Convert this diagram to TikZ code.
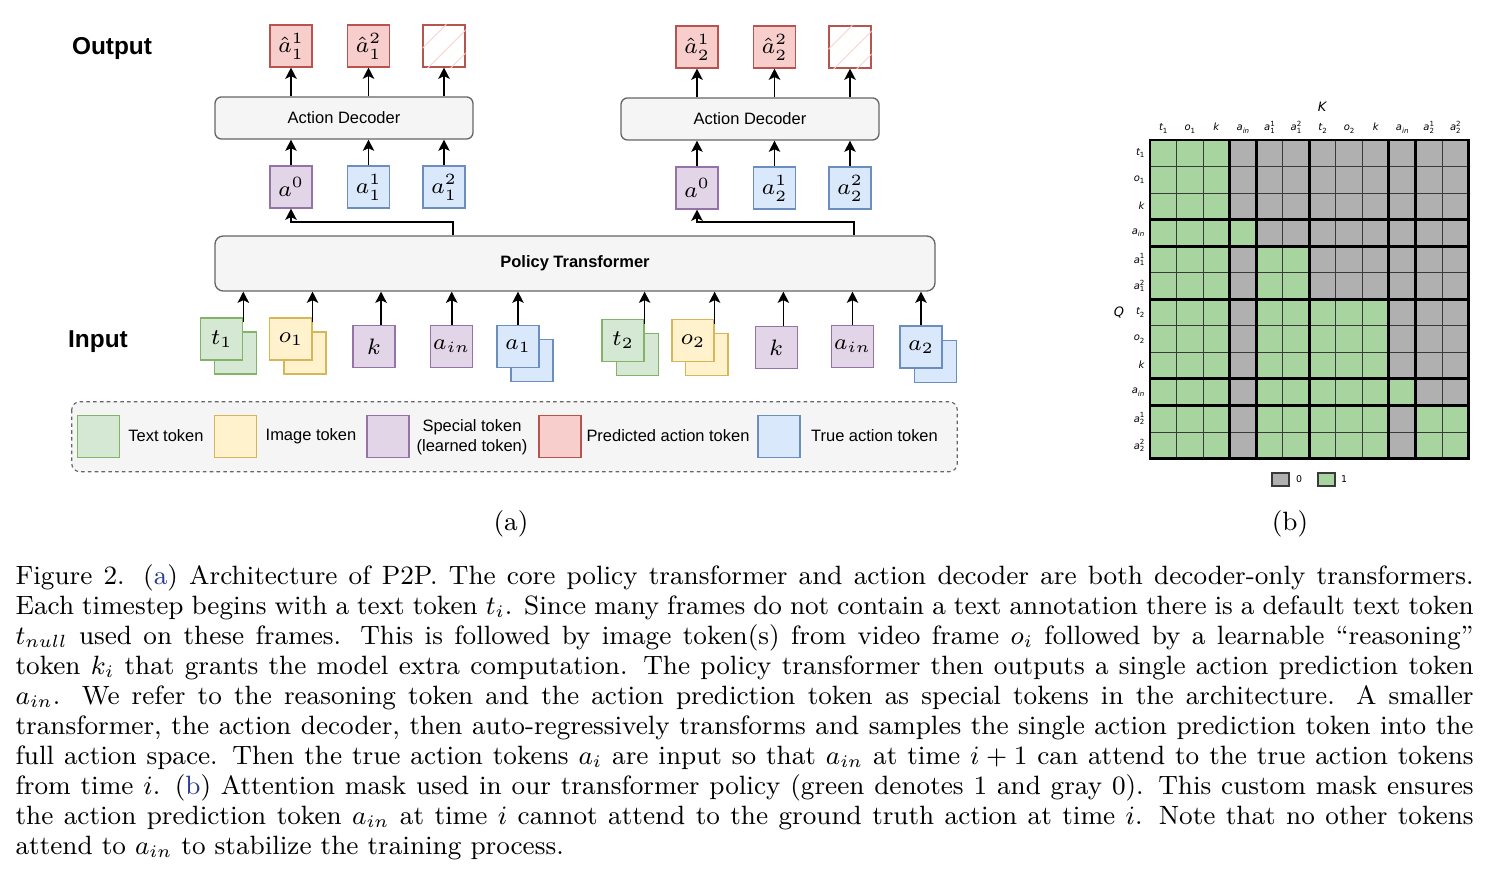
\RequirePackage{fix-cm}
\documentclass[tikz,border=0pt]{standalone}
\usepackage{fontspec}
\usetikzlibrary{arrows.meta}
\newfontfamily\arialfont{Liberation Sans}
\newfontfamily\mplfont{DejaVu Sans}
\definecolor{gfill}{HTML}{D5E8D4}\definecolor{gdraw}{HTML}{82B366}
\definecolor{yfill}{HTML}{FFF2CC}\definecolor{ydraw}{HTML}{D6B656}
\definecolor{pfill}{HTML}{E1D5E7}\definecolor{pdraw}{HTML}{9673A6}
\definecolor{rfill}{HTML}{F8CECC}\definecolor{rdraw}{HTML}{B85450}
\definecolor{bfill}{HTML}{DAE8FC}\definecolor{bdraw}{HTML}{6C8EBF}
\definecolor{boxfill}{HTML}{F5F5F5}\definecolor{boxdraw}{HTML}{666666}
\definecolor{hatch}{HTML}{F8D2D0}
\definecolor{c1}{RGB}{168,212,160}
\definecolor{c0}{RGB}{176,176,176}
\definecolor{gridc}{HTML}{3A3A3A}
\definecolor{capblue}{RGB}{40,60,150}
\newcommand\mt[3]{{\mplfont\itshape #1}\makebox[0pt][l]{\raisebox{0.45em}{\mplfont\fontsize{2.4}{2.7}\selectfont #3}}{\raisebox{-0.22em}{\mplfont\fontsize{2.4}{2.7}\selectfont #2}}}
\begin{document}
\begin{tikzpicture}[x=0.34pt,y=-0.34pt,
  tok/.style={draw, line width=0.4pt, minimum size=14.3pt, inner sep=0pt, font=\fontsize{7.6}{8.4}\selectfont},
  tg/.style={tok, fill=gfill, draw=gdraw},
  ty/.style={tok, fill=yfill, draw=ydraw},
  tp/.style={tok, fill=pfill, draw=pdraw},
  tr/.style={tok, fill=rfill, draw=rdraw},
  tb/.style={tok, fill=bfill, draw=bdraw},
  decoder/.style={draw=boxdraw, fill=boxfill, line width=0.45pt, rounded corners=2.2pt, minimum width=87.7pt, minimum height=14.3pt, inner sep=0pt, font=\arialfont\fontsize{5.6}{6.5}\selectfont},
  arr/.style={-{Stealth[length=3.8pt,width=3.9pt,inset=0.9pt]}, line width=0.55pt},
  lbl/.style={font=\arialfont\fontsize{5.6}{6.8}\selectfont, inner sep=0pt, align=center},
  big/.style={font=\arialfont\bfseries\fontsize{8.3}{9}\selectfont, inner sep=0pt},
  tick/.style={font=\fontsize{3.4}{3.8}\selectfont, inner sep=0pt},
  thinl/.style={draw=gridc, line width=0.35pt},
  thickl/.style={draw=black, line width=1.0pt}
]
\useasboundingbox (0,0) rectangle (1495,877);
\fill[white] (0,0) rectangle (1495,877);

% ---------- labels
\node[big] (outlbl) at (112,49) {Output};
\node[big] (inlbl) at (98,342) {Input};

% ---------- policy transformer
\node[draw=boxdraw, fill=boxfill, line width=0.45pt, rounded corners=2.8pt, minimum width=244.8pt, minimum height=18.7pt, inner sep=0pt, font=\arialfont\bfseries\fontsize{5.6}{6.5}\selectfont] (pt) at (575,263.5) {Policy Transformer};

% ---------- left group
\node[decoder] (ad1) at (344,118) {Action Decoder};
\node[tr] (o11) at (291,46) {$\hat{a}_1^1$};
\node[tr] (o12) at (368.5,46) {$\hat{a}_1^2$};
\node[tok, fill=white, draw=rdraw] (o13) at (444,46) {};
\begin{scope}
  \clip (o13.south west) rectangle (o13.north east);
  \begin{scope}[shift={(o13.north west)}]
    \draw[hatch, line width=0.35pt] (0,24) -- (24,0) (0,49) -- (49,0) (0,72) -- (72,0);
  \end{scope}
\end{scope}
\node[tp] (a01) at (291,187) {$a^0$};
\node[tb] (a111) at (368.5,187) {$a_1^1$};
\node[tb] (a112) at (444,187) {$a_1^2$};

\draw[arr] (ad1.north -| o11.south) -- (o11.south);
\draw[arr] (ad1.north -| o12.south) -- (o12.south);
\draw[arr] (ad1.north -| o13.south) -- (o13.south);
\draw[arr] (a01.north) -- (a01.north |- ad1.south);
\draw[arr] (a111.north) -- (a111.north |- ad1.south);
\draw[arr] (a112.north) -- (a112.north |- ad1.south);
\draw[arr] (453,0 |- pt.north) -- (453,222) -| (a01.south);

% ---------- right group
\node[decoder] (ad2) at (750,119) {Action Decoder};
\node[tr] (o21) at (697,47) {$\hat{a}_2^1$};
\node[tr] (o22) at (774.5,47) {$\hat{a}_2^2$};
\node[tok, fill=white, draw=rdraw] (o23) at (850,47) {};
\begin{scope}
  \clip (o23.south west) rectangle (o23.north east);
  \begin{scope}[shift={(o23.north west)}]
    \draw[hatch, line width=0.35pt] (0,24) -- (24,0) (0,49) -- (49,0) (0,72) -- (72,0);
  \end{scope}
\end{scope}
\node[tp] (a02) at (697,188) {$a^0$};
\node[tb] (a221) at (774.5,188) {$a_2^1$};
\node[tb] (a222) at (850,188) {$a_2^2$};

\draw[arr] (ad2.north -| o21.south) -- (o21.south);
\draw[arr] (ad2.north -| o22.south) -- (o22.south);
\draw[arr] (ad2.north -| o23.south) -- (o23.south);
\draw[arr] (a02.north) -- (a02.north |- ad2.south);
\draw[arr] (a221.north) -- (a221.north |- ad2.south);
\draw[arr] (a222.north) -- (a222.north |- ad2.south);
\draw[arr] (854,0 |- pt.north) -- (854,222) -| (a02.south);

% ---------- input tokens, step 1
\node[tg] (t1b) at (235.3,353) {};
\node[tg] (t1) at (221.7,339) {$t_1$};
\node[ty] (o1b) at (305,353) {};
\node[ty] (o1) at (290.9,339) {$o_1$};
\node[tp] (k1) at (374,346.4) {$k$};
\node[tp] (ain1) at (451.7,346.4) {$a_{in}$};
\node[tb] (a1b) at (532,360.4) {};
\node[tb] (a1) at (518,346.4) {$a_1$};

\draw[arr] ([yshift=-1.7pt]t1.north east) -- (t1.north east |- pt.south);
\draw[arr] ([yshift=-1.7pt]o1.north east) -- (o1.north east |- pt.south);
\draw[arr] ([xshift=2.4pt]k1.north) -- ([xshift=2.4pt]k1.north |- pt.south);
\draw[arr] (ain1.north) -- (ain1.north |- pt.south);
\draw[arr] (a1.north) -- (a1.north |- pt.south);

% ---------- input tokens, step 2
\node[tg] (t2b) at (637.5,354.8) {};
\node[tg] (t2) at (623,340.4) {$t_2$};
\node[ty] (o2b) at (706.9,354.8) {};
\node[ty] (o2) at (693,340.8) {$o_2$};
\node[tp] (k2) at (776.3,347.7) {$k$};
\node[tp] (ain2) at (852.5,346.2) {$a_{in}$};
\node[tb] (a2b) at (935.7,361.5) {};
\node[tb] (a2) at (921,347) {$a_2$};

\draw[arr] ([yshift=-1.7pt]t2.north east) -- (t2.north east |- pt.south);
\draw[arr] ([yshift=-1.7pt]o2.north east) -- (o2.north east |- pt.south);
\draw[arr] ([xshift=2.4pt]k2.north) -- ([xshift=2.4pt]k2.north |- pt.south);
\draw[arr] (ain2.north) -- (ain2.north |- pt.south);
\draw[arr] (a2.north) -- (a2.north |- pt.south);

% ---------- legend
\draw[draw=boxdraw, fill=boxfill, line width=0.4pt, dash pattern=on 1.2pt off 1.1pt, rounded corners=2.8pt] (71.7,401.7) rectangle (957.3,471.7);
\node[tg] (lg) at (98.7,436.5) {};
\node[lbl] (lgt) at (166,436) {Text token};
\node[ty] (ly) at (235.5,436.5) {};
\node[lbl] (lyt) at (311,436) {Image token};
\node[tp] (lp) at (388,436.5) {};
\node[lbl] (lpt) at (472,437) {Special token\\(learned token)};
\node[tr] (lr) at (560,436.5) {};
\node[lbl] (lrt) at (668,436) {Predicted action token};
\node[tb] (lb) at (779,436.5) {};
\node[lbl] (lbt) at (874.5,436) {True action token};

% ---------- attention mask
\def\cs{26.55}
\begin{scope}[shift={(1150,140)}]
  \foreach \row [count=\r from 0] in {
    {1,1,1,0,0,0,0,0,0,0,0,0},
    {1,1,1,0,0,0,0,0,0,0,0,0},
    {1,1,1,0,0,0,0,0,0,0,0,0},
    {1,1,1,1,0,0,0,0,0,0,0,0},
    {1,1,1,0,1,1,0,0,0,0,0,0},
    {1,1,1,0,1,1,0,0,0,0,0,0},
    {1,1,1,0,1,1,1,1,1,0,0,0},
    {1,1,1,0,1,1,1,1,1,0,0,0},
    {1,1,1,0,1,1,1,1,1,0,0,0},
    {1,1,1,0,1,1,1,1,1,1,0,0},
    {1,1,1,0,1,1,1,1,1,0,1,1},
    {1,1,1,0,1,1,1,1,1,0,1,1}} {
    \foreach \v [count=\c from 0] in \row {
      \fill[c\v] ({\c*\cs},{\r*\cs}) rectangle ++(\cs,\cs);
    }
  }
  \foreach \i in {1,...,11} {
    \draw[thinl] ({\i*\cs},0) -- ({\i*\cs},{12*\cs});
    \draw[thinl] (0,{\i*\cs}) -- ({12*\cs},{\i*\cs});
  }
  \foreach \i in {3,4,6,9,10} {
    \draw[thickl] ({\i*\cs},0) -- ({\i*\cs},{12*\cs});
    \draw[thickl] (0,{\i*\cs}) -- ({12*\cs},{\i*\cs});
  }
  \draw[thickl] (0,0) rectangle ({12*\cs},{12*\cs});
  % column labels
  \foreach \lab [count=\c from 0] in {\mt{t}{1}{},\mt{o}{1}{},\mt{k}{}{},\mt{a}{\itshape in}{},\mt{a}{1}{1},\mt{a}{1}{2},\mt{t}{2}{},\mt{o}{2}{},\mt{k}{}{},\mt{a}{\itshape in}{},\mt{a}{2}{1},\mt{a}{2}{2}} {
    \node[tick, anchor=base] at ({(\c+0.5)*\cs},-9) {\lab};
  }
  % row labels
  \foreach \lab [count=\r from 0] in {\mt{t}{1}{},\mt{o}{1}{},\mt{k}{}{},\mt{a}{\itshape in}{},\mt{a}{1}{1},\mt{a}{1}{2},\mt{t}{2}{},\mt{o}{2}{},\mt{k}{}{},\mt{a}{\itshape in}{},\mt{a}{2}{1},\mt{a}{2}{2}} {
    \node[tick, anchor=east] at (-5,{(\r+0.5)*\cs}) {\lab};
  }
\end{scope}
\node[font=\mplfont\itshape\fontsize{4.4}{5}\selectfont, inner sep=0pt] (klbl) at (1322,107) {K};
\node[font=\mplfont\itshape\fontsize{4.4}{5}\selectfont, inner sep=0pt] (qlbl) at (1119,313) {Q};
\draw[draw=gridc, line width=0.35pt, fill=c0] (1272,473) rectangle (1289,486);
\node[tick, font=\mplfont\fontsize{3.2}{3.6}\selectfont] (l0) at (1299,479.5) {0};
\draw[draw=gridc, line width=0.35pt, fill=c1] (1318,473) rectangle (1335,486);
\node[tick, font=\mplfont\fontsize{3.2}{3.6}\selectfont] (l1) at (1344,479.5) {1};

% ---------- subfigure labels
\node[font=\fontsize{9}{10}\selectfont, inner sep=0pt] (suba) at (511,524) {(a)};
\node[font=\fontsize{9}{10}\selectfont, inner sep=0pt] (subb) at (1290,524) {(b)};

% ---------- caption
\node[anchor=base west, inner sep=0pt, text width=495.72pt, align=justify, font=\fontsize{9}{10.17}\selectfont] (cap) at (15,585) {Figure 2. (\textcolor{capblue}{a}) Architecture of P2P. The core policy transformer and action decoder are both decoder-only transformers.\linebreak
Each timestep begins with a text token $t_i$. Since many frames do not contain a text annotation there is a default text token\linebreak
$t_{null}$ used on these frames. This is followed by image token(s) from video frame $o_i$ followed by a learnable ``reasoning''\linebreak
token $k_i$ that grants the model extra computation. The policy transformer then outputs a single action prediction token\linebreak
$a_{in}$. We refer to the reasoning token and the action prediction token as special tokens in the architecture. A smaller\linebreak
transformer, the action decoder, then auto-regressively transforms and samples the single action prediction token into the\linebreak
full action space. Then the true action tokens $a_i$ are input so that $a_{in}$ at time $i+1$ can attend to the true action tokens\linebreak
from time $i$. (\textcolor{capblue}{b}) Attention mask used in our transformer policy (green denotes 1 and gray 0). This custom mask ensures\linebreak
the action prediction token $a_{in}$ at time $i$ cannot attend to the ground truth action at time $i$. Note that no other tokens\linebreak
attend to $a_{in}$ to stabilize the training process.};
\end{tikzpicture}
\end{document}
